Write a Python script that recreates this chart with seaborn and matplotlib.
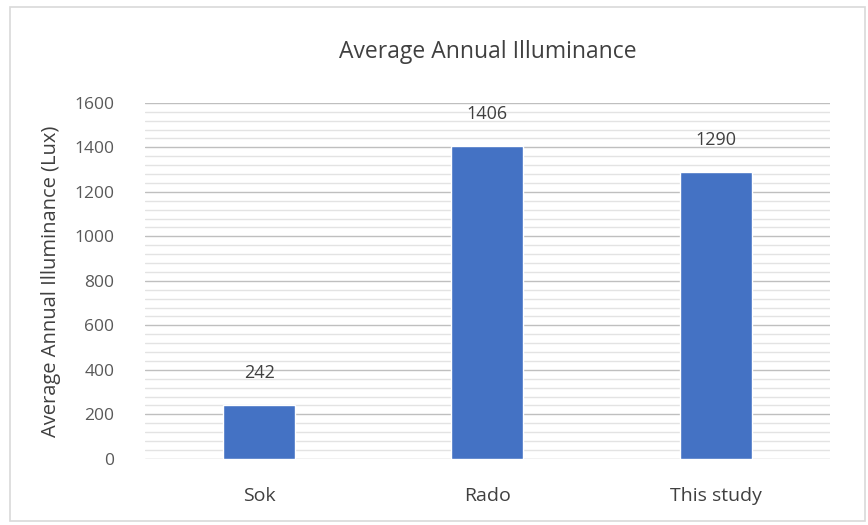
import matplotlib.pyplot as plt
import seaborn as sns
import pandas as pd
from matplotlib.ticker import MultipleLocator
from matplotlib.patches import Rectangle

studies = ["Sok", "Rado", "This study"]
illuminance = [242, 1406, 1290]

df = pd.DataFrame({"Study": studies, "Illuminance": illuminance})

sns.set_style("white")
plt.rcParams["font.family"] = ["Open Sans", "DejaVu Sans"]

fig = plt.figure(figsize=(8.68, 5.25), dpi=100)
ax = fig.add_axes([0.167, 0.126, 0.789, 0.678])

sns.barplot(data=df, x="Study", y="Illuminance", color="#4472C4",
            width=0.315, saturation=1, ax=ax, zorder=3)

ax.set_ylim(0, 1600)
ax.yaxis.set_major_locator(MultipleLocator(200))
ax.yaxis.set_minor_locator(MultipleLocator(40))
ax.grid(axis="y", which="major", color="#BFBFBF", linewidth=1.0, zorder=0)
ax.grid(axis="y", which="minor", color="#E3E3E3", linewidth=1.0, zorder=0)
ax.set_axisbelow(True)
for s in ax.spines.values():
    s.set_visible(False)
ax.tick_params(axis="both", length=0, labelsize=12.5, colors="#595959")
ax.tick_params(axis="y", pad=22)
ax.tick_params(axis="x", pad=20, labelsize=14)
for lbl in ax.get_xticklabels():
    lbl.set_color("#404040")

ax.set_xlabel("")
ax.set_ylabel("Average Annual Illuminance (Lux)", fontsize=14.5, color="#404040", labelpad=10)
ax.set_title("Average Annual Illuminance", fontsize=16.5, color="#404040", pad=32)

for i, v in enumerate(illuminance):
    ax.annotate(str(v), (i, v), xytext=(0, 23), textcoords="offset points",
                ha="center", va="center", fontsize=13, color="#404040")

fig.patches.append(Rectangle((0.012, 0.008), 0.985, 0.978, transform=fig.transFigure,
                             fill=False, edgecolor="#D9D9D9", linewidth=1.2))

fig.savefig("out.png", dpi=100)
